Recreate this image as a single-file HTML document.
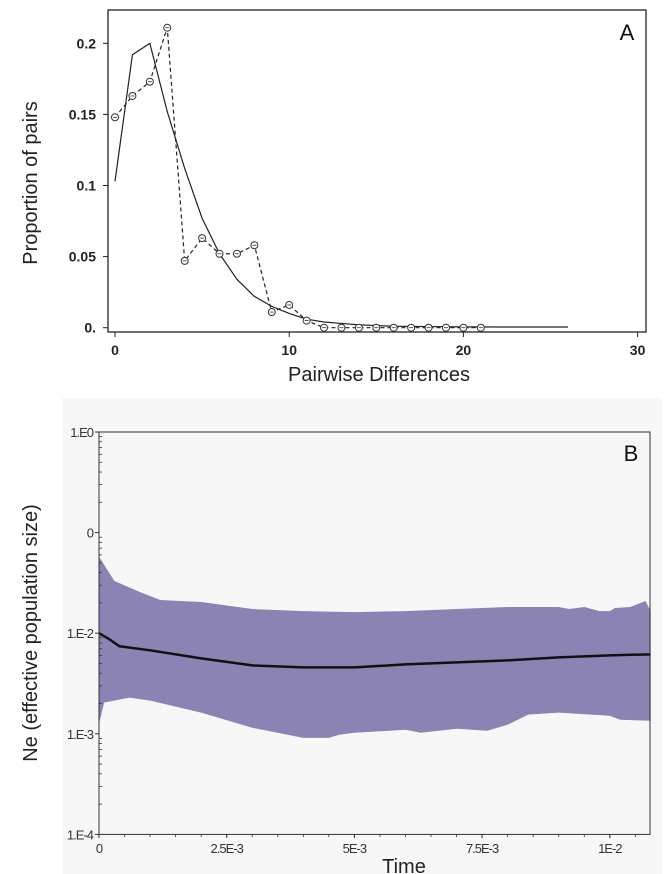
<!DOCTYPE html>
<html><head><meta charset="utf-8"><style>
body{margin:0;background:#fff;}
svg{display:block;font-family:"Liberation Sans",sans-serif;}
</style></head><body>
<svg id="chart" width="671" height="874" viewBox="0 0 671 874" xmlns="http://www.w3.org/2000/svg">
<rect x="0" y="0" width="671" height="874" fill="#fff"/>
<rect x="62" y="398" width="600" height="476" fill="#f7f7f7"/>
<g id="pa"></g>
<g id="pb"></g>
</svg>
<script>
// Panel A data
const aX = [0,1,2,3,4,5,6,7,8,9,10,11,12,13,14,15,16,17,18,19,20,21];
const aObserved = [0.148,0.163,0.173,0.211,0.047,0.063,0.052,0.052,0.058,0.011,0.016,0.005,0,0,0,0,0,0,0,0,0,0];
const aExpX = [0,1,2,3,4,5,6,7,8,9,10,11,12,13,14,15,16,18,20,22,24,26];
const aExpected = [0.103,0.192,0.200,0.152,0.112,0.077,0.052,0.034,0.022,0.015,0.010,0.006,0.004,0.003,0.002,0.0015,0.001,0.0008,0.0006,0.0005,0.0005,0.0005];
const aXTicks = [0,10,20,30];
const aYTicks = [0,0.05,0.1,0.15,0.2];
const aYTickLabels = ["0.","0.05","0.1","0.15","0.2"];
// Panel B data (log10 Ne)
const bT = [0,0.0002,0.0004,0.001,0.002,0.003,0.004,0.005,0.006,0.007,0.008,0.009,0.01,0.0108];
const bMedian = [-2.0,-2.06,-2.13,-2.17,-2.25,-2.32,-2.34,-2.34,-2.31,-2.29,-2.27,-2.24,-2.22,-2.21];
const bUpT = [0,0.0003,0.0008,0.0012,0.002,0.003,0.004,0.005,0.006,0.007,0.008,0.009,0.0092,0.0095,0.0098,0.01,0.0101,0.0104,0.0107,0.0108];
const bUpper = [-1.24,-1.48,-1.59,-1.67,-1.69,-1.76,-1.78,-1.79,-1.78,-1.76,-1.74,-1.74,-1.76,-1.74,-1.78,-1.78,-1.75,-1.74,-1.68,-1.78];
const bLoT = [0,0.0001,0.0006,0.001,0.002,0.003,0.004,0.0045,0.0047,0.005,0.006,0.0063,0.007,0.0076,0.008,0.0084,0.009,0.01,0.0102,0.0108];
const bLower = [-2.9,-2.69,-2.64,-2.67,-2.79,-2.94,-3.04,-3.04,-3.01,-2.99,-2.96,-2.99,-2.95,-2.97,-2.91,-2.81,-2.79,-2.82,-2.86,-2.87];
const bXTicks = [0,0.0025,0.005,0.0075,0.01];
const bXTickLabels = ["0","2.5E-3","5E-3","7.5E-3","1E-2"];
const bYTicks = [0,-1,-2,-3,-4];
const bYTickLabels = ["1.E0","0","1.E-2","1.E-3","1.E-4"];

const NS="http://www.w3.org/2000/svg";
function mk(parent,tag,attrs,text){const e=document.createElementNS(NS,tag);for(const k in attrs)e.setAttribute(k,attrs[k]);if(text!==undefined)e.textContent=text;parent.appendChild(e);return e;}

// ---- Panel A
const pa=document.getElementById('pa');
const ax=v=>115+v*17.42, ay=v=>327.7-v*1421.7;
let e;
e=mk(pa,'rect',{x:108,y:10,width:538,height:322,fill:'none',stroke:'#222','stroke-width':1.3});


aXTicks.forEach(v=>{mk(pa,'line',{x1:ax(v),x2:ax(v),y1:332,y2:337,stroke:'#222'});
 e=mk(pa,'text',{x:ax(v),y:355,'text-anchor':'middle','font-size':14,'font-weight':'bold',fill:'#222'},String(v));
 
 });
aYTicks.forEach((v,i)=>{mk(pa,'line',{x1:103,x2:108,y1:ay(v),y2:ay(v),stroke:'#222'});
 e=mk(pa,'text',{x:96,y:ay(v)+5,'text-anchor':'end','font-size':14,'font-weight':'bold',fill:'#222'},aYTickLabels[i]);
 
 });
e=mk(pa,'path',{d:aExpX.map((v,i)=>(i?'L':'M')+ax(v)+','+ay(aExpected[i])).join(''),fill:'none',stroke:'#222','stroke-width':1.2});


e=mk(pa,'path',{d:aX.map((v,i)=>(i?'L':'M')+ax(v)+','+ay(aObserved[i])).join(''),fill:'none',stroke:'#222','stroke-width':1.2,'stroke-dasharray':'4,3'});


aX.forEach((v,i)=>{e=mk(pa,'circle',{cx:ax(v),cy:ay(aObserved[i]),r:3.5,fill:'#fff',stroke:'#333','stroke-width':1});
 
 
 mk(pa,'line',{x1:ax(v)-2,x2:ax(v)+2,y1:ay(aObserved[i]),y2:ay(aObserved[i]),stroke:'#333','stroke-width':0.8});});
e=mk(pa,'text',{x:379,y:381,'text-anchor':'middle','font-size':20,fill:'#222'},'Pairwise Differences');


e=mk(pa,'text',{x:0,y:0,'text-anchor':'middle','font-size':20,fill:'#222',transform:'translate(37,183) rotate(-90)'},'Proportion of pairs');


e=mk(pa,'text',{x:627,y:40,'text-anchor':'middle','font-size':22,fill:'#111'},'A');



// ---- Panel B
const pb=document.getElementById('pb');
const bx=t=>99+t*51080;
const byy=l=>432-l*100.6;
let d=bUpT.map((t,i)=>(i?'L':'M')+bx(t)+','+byy(bUpper[i])).join('');
for(let i=bLoT.length-1;i>=0;i--)d+='L'+bx(bLoT[i])+','+byy(bLower[i]);
e=mk(pb,'path',{d:d+'Z',fill:'#8b83b4'});


e=mk(pb,'path',{d:bT.map((t,i)=>(i?'L':'M')+bx(t)+','+byy(bMedian[i])).join(''),fill:'none',stroke:'#111','stroke-width':2.5});


e=mk(pb,'rect',{x:99,y:432,width:551,height:402.4,fill:'none',stroke:'#333','stroke-width':1});


bYTicks.forEach((v,i)=>{mk(pb,'line',{x1:95,x2:99,y1:byy(v),y2:byy(v),stroke:'#333'});
 e=mk(pb,'text',{x:93,y:byy(v)+5,'text-anchor':'end','font-size':13,fill:'#333','letter-spacing':'-1'},bYTickLabels[i]);
 
 
 if(v>-4){for(let k=2;k<10;k++){const yy=byy(v-1+Math.log10(k));mk(pb,'line',{x1:99,x2:102,y1:yy,y2:yy,stroke:'#333','stroke-width':0.8});}}});
bXTicks.forEach((v,i)=>{mk(pb,'line',{x1:bx(v),x2:bx(v),y1:834.4,y2:838,stroke:'#333'});
 e=mk(pb,'text',{x:bx(v),y:853,'text-anchor':'middle','font-size':13,fill:'#333','letter-spacing':'-1'},bXTickLabels[i]);
 
 });
for(let t=0.0005;t<0.0108;t+=0.0005){mk(pb,'line',{x1:bx(t),x2:bx(t),y1:834.4,y2:837,stroke:'#333','stroke-width':0.8});}
e=mk(pb,'text',{x:404,y:873,'text-anchor':'middle','font-size':20,fill:'#222'},'Time');


e=mk(pb,'text',{x:0,y:0,'text-anchor':'middle','font-size':20,fill:'#222',transform:'translate(37,633) rotate(-90)'},'Ne (effective population size)');


e=mk(pb,'text',{x:631,y:461,'text-anchor':'middle','font-size':22,fill:'#111'},'B');


</script>
</body></html>
